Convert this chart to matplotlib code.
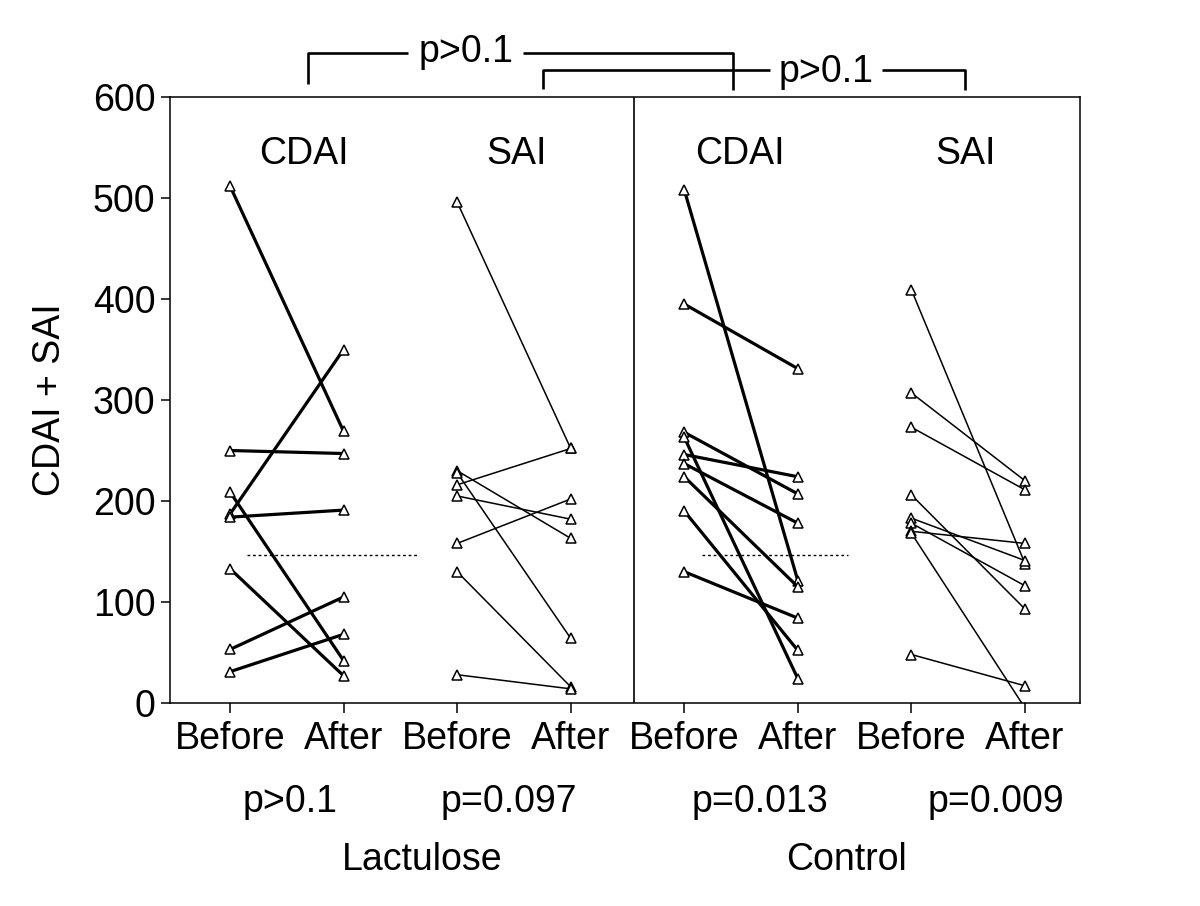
import matplotlib
matplotlib.use("Agg")
import matplotlib.pyplot as plt

plt.rcParams['font.family'] = ['Liberation Sans', 'DejaVu Sans']

# ---- data ----
tick_labels = ["Before", "After"] * 4
lac_cdai_before = [512, 250, 209, 187, 184, 133, 53, 31]
lac_cdai_after = [269, 247, 42, 350, 191, 27, 105, 68]
lac_sai_before = [496, 216, 230, 228, 205, 158, 130, 28]
lac_sai_after = [252, 252, 163, 64, 182, 202, 16, 14]
con_cdai_before = [508, 395, 268, 263, 246, 237, 224, 190, 130]
con_cdai_after = [121, 331, 207, 24, 224, 178, 115, 52, 84]
con_sai_before = [409, 307, 273, 206, 183, 178, 170, 168, 48]
con_sai_after = [138, 220, 211, 93, 141, 116, 158, -5, 17]
reference_level = 147
index_labels = ["CDAI", "SAI", "CDAI", "SAI"]
pair_pvalues = ["p>0.1", "p=0.097", "p=0.013", "p=0.009"]
group_labels = ["Lactulose", "Control"]
bracket_pvalues = ["p>0.1", "p>0.1"]

W, H = 1200, 906
fig = plt.figure(figsize=(W / 100, H / 100), dpi=100)
ax = fig.add_axes([170 / W, 1 - 703 / H, (1080 - 170) / W, (703 - 97) / H])

FS = 27


def dx(px):
    return 1 + (px - 230) / 113.57


def dy(py):
    return (702.5 - py) / 1.01


series = [
    (1, lac_cdai_before, lac_cdai_after, 2.3),
    (3, lac_sai_before, lac_sai_after, 1.1),
    (5, con_cdai_before, con_cdai_after, 2.3),
    (7, con_sai_before, con_sai_after, 1.1),
]
for x0, b, a, lw in series:
    for vb, va in zip(b, a):
        ax.plot([x0, x0 + 1], [vb, va], color='black', lw=lw,
                marker='^', markersize=6.5, markerfacecolor='white',
                markeredgecolor='black', markeredgewidth=1.1, zorder=3)

# dotted reference lines
ax.plot([dx(247), dx(417)], [reference_level] * 2, color='black', lw=1.0,
        ls=(0, (2, 2)), zorder=2)
ax.plot([dx(702), dx(848)], [reference_level] * 2, color='black', lw=1.0,
        ls=(0, (2, 2)), zorder=2)

# separator
ax.axvline(dx(634), color='black', lw=1.2)

ax.set_xlim(0.472, 8.484)
ax.set_ylim(0, 600)
ax.set_yticks(range(0, 601, 100))
ax.set_xticks(range(1, 9))
ax.set_xticklabels(tick_labels, fontsize=FS)
ax.tick_params(axis='y', labelsize=FS, length=6.5, width=1.1, pad=4)
ax.tick_params(axis='x', length=7, width=1.1, pad=6)
for s in ax.spines.values():
    s.set_linewidth(1.1)
ax.set_ylabel("CDAI + SAI", fontsize=FS, labelpad=18)

# index labels inside
for px, t in zip([304, 517, 740, 965], index_labels):
    ax.text(dx(px), dy(163), t, fontsize=FS, ha='center', va='baseline')

# p-values below and group names
for px, t in zip([290, 509, 760, 996], pair_pvalues):
    fig.text(px / W, 1 - 812 / H, t, fontsize=FS, ha='center', va='baseline')
for px, t in zip([422, 846], group_labels):
    fig.text(px / W, 1 - 870 / H, t, fontsize=FS, ha='center', va='baseline')

# top comparison brackets
blw = 1.9
kw = dict(color='black', lw=blw, clip_on=False, solid_capstyle='butt')
ax.plot([dx(308), dx(308), dx(408)], [dy(83), dy(52), dy(52)], **kw)
ax.plot([dx(523), dx(733), dx(733)], [dy(52), dy(52), dy(89)], **kw)
ax.text(dx(466), dy(62), bracket_pvalues[0], fontsize=FS, ha='center', va='baseline')
ax.plot([dx(543), dx(543), dx(770)], [dy(88), dy(69), dy(69)], **kw)
ax.plot([dx(882), dx(965), dx(965)], [dy(69), dy(69), dy(89)], **kw)
ax.text(dx(826), dy(82), bracket_pvalues[1], fontsize=FS, ha='center', va='baseline')

fig.savefig("out.png", dpi=100)
